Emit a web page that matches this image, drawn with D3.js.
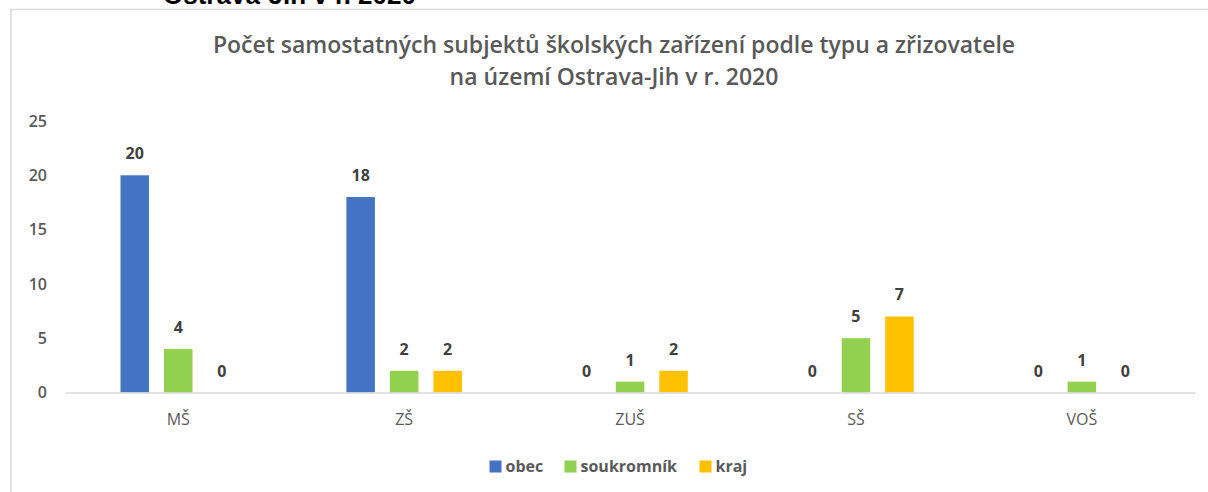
<!DOCTYPE html>
<html>
<head>
<meta charset="utf-8">
<script src="https://cdn.jsdelivr.net/npm/d3@7"></script>
<style>
  html, body { margin: 0; padding: 0; background: #fff; }
  svg { display: block; }
  text { font-family: "Open Sans", sans-serif; }
</style>
</head>
<body>
<svg id="chart" width="1208" height="492"></svg>
<script>
// School facility types (categories)
const categories = ["MŠ", "ZŠ", "ZUŠ", "SŠ", "VOŠ"];
// Founder types (series)
const seriesNames = ["obec", "soukromník", "kraj"];
const seriesColors = ["#4472C4", "#92D050", "#FFC000"];
// Counts per founder, in category order
const obec = [20, 18, 0, 0, 0];
const soukromnik = [4, 2, 1, 5, 1];
const kraj = [0, 2, 2, 7, 0];
const yTicks = [0, 5, 10, 15, 20, 25];
const titleLines = [
  "Počet samostatných subjektů školských zařízení podle typu a zřizovatele",
  "na území Ostrava-Jih v r. 2020"
];
const headingText = "Ostrava-Jih v r. 2020";

const seriesValues = [obec, soukromnik, kraj];
const svg = d3.select("#chart");
const W = 1208, H = 492;

// heading above the chart frame (partly cut off by the page top)
svg.append("text")
  .attr("x", 163).attr("y", 4)
  .style("font-family", "'Liberation Sans', Arial, sans-serif")
  .attr("font-size", 26).attr("font-weight", "bold")
  .attr("fill", "#000")
  .text(headingText);

// chart frame
svg.append("path")
  .attr("d", `M11,${H + 2} V9.5 H${W + 2}`)
  .attr("fill", "none").attr("stroke", "#d9d9d9").attr("stroke-width", 1.5);

// title
svg.append("g").selectAll("text").data(titleLines).join("text")
  .attr("x", 614).attr("y", (d, i) => 53 + i * 32)
  .attr("text-anchor", "middle")
  .attr("font-size", 23).attr("font-weight", 600)
  .attr("fill", "#595959")
  .text(d => d);

const margin = { left: 65.3, right: W - 1194.8 };
const x0 = d3.scaleBand().domain(categories)
  .range([margin.left, W - margin.right]).paddingInner(0).paddingOuter(0);
const y = d3.scaleLinear().domain([0, 25]).range([392.5, 121]);

const barW = 28.5, step = 43.5;
const x1 = d3.scalePoint().domain(seriesNames).range([-step, step]);

// y axis labels (no axis line, no gridlines)
const yAxis = svg.append("g")
  .attr("transform", "translate(47,0)")
  .call(d3.axisLeft(y).tickValues(yTicks).tickSize(0).tickPadding(0));
yAxis.select(".domain").remove();
yAxis.selectAll("text")
  .attr("font-size", 16).attr("font-weight", 600).attr("fill", "#595959")
  .style("font-family", "'Open Sans', sans-serif");

// bars
const groups = svg.append("g").selectAll("g").data(categories).join("g")
  .attr("transform", d => `translate(${x0(d) + x0.bandwidth() / 2},0)`);

groups.each(function (cat, ci) {
  const g = d3.select(this);
  const vals = seriesNames.map((s, si) => ({ s, si, v: seriesValues[si][ci] }));
  g.selectAll("rect").data(vals.filter(d => d.v > 0)).join("rect")
    .attr("x", d => x1(d.s) - barW / 2)
    .attr("y", d => y(d.v))
    .attr("width", barW)
    .attr("height", d => y(0) - y(d.v))
    .attr("fill", d => seriesColors[d.si]);
  g.selectAll("text.val").data(vals).join("text")
    .attr("class", "val")
    .attr("x", d => x1(d.s))
    .attr("y", d => y(d.v) - 16)
    .attr("text-anchor", "middle")
    .attr("font-size", 16).attr("font-weight", "bold")
    .attr("fill", "#404040")
    .text(d => d.v);
});

// x axis baseline + category labels
const xAxis = svg.append("g")
  .attr("transform", `translate(0,${y(0)})`)
  .call(d3.axisBottom(x0).tickSize(0).tickPadding(21));
xAxis.select(".domain").attr("stroke", "#d9d9d9").attr("stroke-width", 1.5);
xAxis.selectAll("text")
  .attr("font-size", 16).attr("fill", "#595959")
  .style("font-family", "'Open Sans', sans-serif");

// legend
const legendX = [489.5, 564.5, 699.5];
const legend = svg.append("g").selectAll("g").data(seriesNames).join("g")
  .attr("transform", (d, i) => `translate(${legendX[i]},460.5)`);
legend.append("rect").attr("width", 12).attr("height", 12)
  .attr("fill", (d, i) => seriesColors[i]);
legend.append("text").attr("x", 16).attr("y", 11.5)
  .attr("font-size", 16).attr("font-weight", "bold").attr("fill", "#595959")
  .text(d => d);
</script>
</body>
</html>
